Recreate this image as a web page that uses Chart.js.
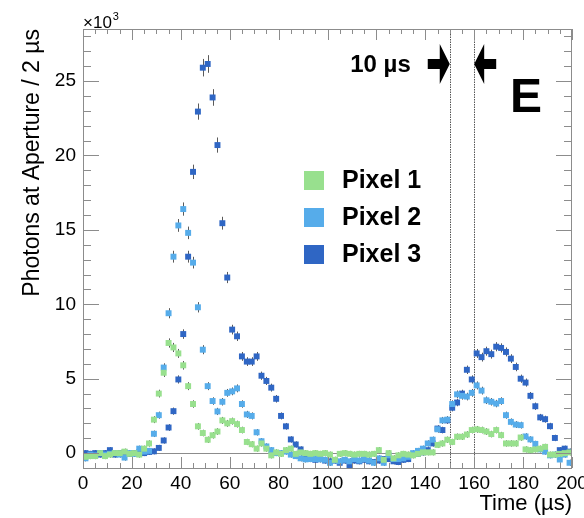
<!DOCTYPE html>
<html>
<head>
<meta charset="utf-8">
<script src="https://cdn.jsdelivr.net/npm/chart.js@4.4.1/dist/chart.umd.min.js"></script>
<style>
  html, body { margin: 0; padding: 0; background: #fff; }
  #wrap { width: 584px; height: 518px; }
</style>
</head>
<body>
<div id="wrap"><canvas id="photonChart" width="584" height="518"></canvas></div>
<script>
// 2 us bins, centres in us
const binCentres = [
  1, 3, 5, 7, 9, 11, 13, 15, 17, 19,
  21, 23, 25, 27, 29, 31, 33, 35, 37, 39,
  41, 43, 45, 47, 49, 51, 53, 55, 57, 59,
  61, 63, 65, 67, 69, 71, 73, 75, 77, 79,
  81, 83, 85, 87, 89, 91, 93, 95, 97, 99,
  101, 103, 105, 107, 109, 111, 113, 115, 117, 119,
  121, 123, 125, 127, 129, 131, 133, 135, 137, 139,
  141, 143, 145, 147, 149, 151, 153, 155, 157, 159,
  161, 163, 165, 167, 169, 171, 173, 175, 177, 179,
  181, 183, 185, 187, 189, 191, 193, 195, 197, 199
];

// photons at aperture per bin, in units of 10^3
const pixel1 = [
  -0.25, -0.2, -0.2, 0.0, -0.2, -0.1, 0.0, 0.0, 0.1, -0.05,
  0.0, -0.1, 0.3, 0.65, 2.25, 4.0, 5.4, 7.4, 7.1, 6.7,
  5.9, 4.5, 3.3, 1.8, 1.35, 0.9, 1.2, 1.45, 2.2, 2.0,
  2.15, 1.95, 1.55, 0.75, 0.6, 0.3, 0.65, 0.3, -0.15, 0.05,
  -0.05, 0.2, 0.3, -0.05, 0.05, 0.0, -0.05, 0.0, -0.05, 0.0,
  -0.1, -0.45, -0.05, 0.0, -0.05, -0.1, -0.05, -0.05, -0.1, -0.05,
  0.2, -0.45, 0.0, -0.35, -0.15, -0.05, -0.1, -0.15, -0.05, 0.05,
  0.05, 0.05, 0.55, 0.65, 0.9, 0.75, 1.1, 1.1, 1.25, 1.55,
  1.6, 1.55, 1.45, 1.28, 1.55, 1.21, 0.65, 0.65, 0.65, 1.05,
  0.25, 0.2, 0.25, 0.3, 0.42, -0.1, -0.1, -0.05, 0.0, 0.05
];
const pixel2 = [
  -0.35, -0.1, -0.15, 0.0, -0.1, -0.05, 0.0, -0.1, -0.3, 0.0,
  -0.05, 0.3, 0.1, 0.15, 1.3, 2.55, 5.75, 9.4, 13.2, 15.3,
  16.4, 14.8, 12.8, 9.8, 6.95, 4.5, 3.5, 2.8, 3.45, 4.05,
  4.15, 4.35, 3.3, 2.6, 2.5, 1.4, 0.8, 0.45, 0.2, 0.0,
  0.0, 0.1, -0.1, -0.2, -0.35, -0.42, -0.4, -0.4, -0.42, -0.45,
  -0.65, -0.5, -0.55, -0.45, -0.55, -0.4, -0.5, -0.4, -0.5, -0.65,
  -0.35, -0.65, -0.15, -0.4, -0.4, -0.35, -0.25, 0.0, 0.15, 0.3,
  0.65, 0.9, 1.6, 2.2, 2.25, 3.3, 3.95, 3.85, 3.8, 4.05,
  4.55, 4.2, 3.55, 3.45, 3.33, 3.5, 2.55, 2.1, 1.92, 1.88,
  1.12, 0.92, 0.62, 0.25, 0.1, -0.15, -0.1, -0.43, -0.1, -0.65
];
const pixel3 = [
  0.0, -0.05, 0.0, -0.1, 0.0, 0.2, -0.1, 0.0, 0.05, -0.05,
  0.0, 0.05, 0.0, 0.08, 0.12, 0.35, 0.85, 1.72, 2.82, 4.95,
  8.0, 13.2, 18.9, 22.95, 25.9, 26.15, 23.9, 20.7, 15.45, 11.8,
  8.3, 7.85, 6.5, 6.15, 6.15, 6.5, 5.2, 4.85, 4.4, 3.65,
  2.5, 1.8, 0.92, 0.58, 0.25, -0.2, -0.35, -0.45, -0.4, -0.5,
  -0.55, -0.5, -0.65, -0.5, -0.85, -0.5, -0.55, -0.45, -0.55, -0.6,
  -0.5, -0.4, -0.4, -0.55, -0.6, -0.45, -0.4, -0.1, -0.05, 0.05,
  0.2, 0.65, 1.65, 1.55, 2.2, 3.05, 3.4, 4.0, 5.6, 4.95,
  6.7, 6.45, 6.85, 6.65, 7.15, 7.07, 6.8, 6.35, 5.79, 5.0,
  4.74, 3.85, 3.15, 2.4, 2.28, 1.81, 1.02, 0.2, 0.3, 0.1
];

const seriesNames = ["Pixel 1", "Pixel 2", "Pixel 3"];
const seriesColors = ["#98e08e", "#56acea", "#2f66c4"];
const xTicks = [0, 20, 40, 60, 80, 100, 120, 140, 160, 180, 200];
const yTicks = [0, 5, 10, 15, 20, 25];
const windowEdges = [150, 160]; // the 10 us window

// rough statistical error size (10^3 photons)
const errFloor = 0.2;
const errSlope = 0.015;

const FONT = "'Liberation Sans', Arial, Helvetica, sans-serif";
const AXIS_GREY = "#8c8c8c";

function toPoints(vals) {
  return vals.map((v, i) => ({ x: binCentres[i], y: v }));
}

const rootStyle = {
  id: "rootStyle",
  beforeDatasetsDraw(chart) {
    const { ctx, chartArea: a, scales: { x, y } } = chart;
    ctx.save();
    // dotted window lines
    ctx.strokeStyle = "#555";
    ctx.lineWidth = 1;
    ctx.setLineDash([1.5, 1]);
    windowEdges.forEach(t => {
      const px = Math.round(x.getPixelForValue(t)) + 0.5;
      ctx.beginPath();
      ctx.moveTo(px, a.top);
      ctx.lineTo(px, a.bottom);
      ctx.stroke();
    });
    ctx.setLineDash([]);
    // error bars
    ctx.strokeStyle = "#5a5a5a";
    chart.data.datasets.forEach(ds => {
      ds.data.forEach(p => {
        const e = errFloor + errSlope * Math.abs(p.y);
        const px = Math.round(x.getPixelForValue(p.x)) + 0.5;
        ctx.beginPath();
        ctx.moveTo(px, y.getPixelForValue(p.y - e));
        ctx.lineTo(px, y.getPixelForValue(p.y + e));
        ctx.stroke();
      });
    });
    ctx.restore();
  },
  afterDraw(chart) {
    const { ctx, chartArea: a, scales: { x, y } } = chart;
    ctx.save();

    // frame + inward ticks
    ctx.strokeStyle = AXIS_GREY;
    ctx.lineWidth = 1;
    ctx.strokeRect(a.left + 0.5, a.top + 0.5, a.right - a.left - 1, a.bottom - a.top);
    ctx.beginPath();
    for (let t = 0; t <= 200; t += 5) {
      const px = Math.round(x.getPixelForValue(t)) + 0.5;
      const len = t % 20 === 0 ? 11 : 5;
      ctx.moveTo(px, a.bottom); ctx.lineTo(px, a.bottom - len);
      ctx.moveTo(px, a.top); ctx.lineTo(px, a.top + len);
    }
    for (let v = -1; v <= 28; v += 1) {
      const py = Math.round(y.getPixelForValue(v)) + 0.5;
      const len = v % 5 === 0 ? 16 : 8;
      ctx.moveTo(a.left, py); ctx.lineTo(a.left + len, py);
      ctx.moveTo(a.right, py); ctx.lineTo(a.right - len, py);
    }
    ctx.stroke();

    // x10^3 multiplier
    ctx.fillStyle = "#000";
    ctx.textBaseline = "alphabetic";
    ctx.textAlign = "left";
    ctx.font = "17px " + FONT;
    ctx.fillText("\u00d710", a.left, 28);
    const w = ctx.measureText("\u00d710").width;
    ctx.font = "11px " + FONT;
    ctx.fillText("3", a.left + w + 1, 20);

    // 10 us window arrows
    const yArrow = 64;
    const tipL = x.getPixelForValue(windowEdges[0]);
    const tipR = x.getPixelForValue(windowEdges[1]);
    ctx.fillStyle = "#000";
    [[tipL, 1], [tipR, -1]].forEach(([tip, dir]) => {
      ctx.fillRect(dir > 0 ? tip - 22 : tip + 8, yArrow - 5, 14, 10);
      ctx.beginPath();
      ctx.moveTo(tip, yArrow);
      ctx.lineTo(tip - dir * 10, yArrow - 20);
      ctx.lineTo(tip - dir * 10, yArrow + 20);
      ctx.closePath();
      ctx.fill();
    });
    ctx.font = "bold 24px " + FONT;
    ctx.textAlign = "right";
    ctx.textBaseline = "middle";
    ctx.fillText("10 \u00b5s", tipL - 39, yArrow + 1);

    // panel letter
    ctx.font = "bold 48px " + FONT;
    ctx.textAlign = "left";
    ctx.textBaseline = "alphabetic";
    ctx.fillText("E", 510, 112);

    // legend
    ctx.font = "bold 25px " + FONT;
    ctx.textBaseline = "middle";
    chart.data.datasets.forEach((ds, i) => {
      const cy = 180.5 + i * 37;
      ctx.fillStyle = ds.backgroundColor;
      ctx.fillRect(304, cy - 9.5, 20, 19);
      ctx.fillStyle = "#000";
      ctx.fillText(ds.label, 342, cy + 1);
    });

    ctx.restore();
  }
};

Chart.defaults.font.family = FONT;
Chart.defaults.color = "#000";

new Chart(document.getElementById("photonChart").getContext("2d"), {
  type: "scatter",
  data: {
    datasets: [pixel1, pixel2, pixel3].map((vals, i) => ({
      label: seriesNames[i],
      data: toPoints(vals),
      backgroundColor: seriesColors[i],
      borderWidth: 0,
      pointStyle: "rect",
      pointRadius: 4.2,
      pointHoverRadius: 4.2,
    })),
  },
  options: {
    responsive: false,
    animation: false,
    events: [],
    layout: { padding: { left: 0, top: 29, right: 12, bottom: 0 } },
    plugins: { legend: { display: false }, tooltip: { enabled: false } },
    scales: {
      x: {
        type: "linear",
        min: 0,
        max: 200,
        afterBuildTicks: s => { s.ticks = xTicks.map(v => ({ value: v })); },
        afterFit: s => { s.height = 50; s.paddingLeft = 0; s.paddingRight = 0; },
        grid: { display: false, drawTicks: false },
        border: { display: false },
        ticks: { font: { size: 19 }, padding: 4, maxRotation: 0, autoSkip: false },
        title: {
          display: true,
          text: "Time (\u00b5s)",
          align: "end",
          font: { size: 22 },
          padding: { top: 0, bottom: 1 },
        },
      },
      y: {
        type: "linear",
        min: -1,
        max: 28.5,
        afterBuildTicks: s => { s.ticks = yTicks.map(v => ({ value: v })); },
        afterFit: s => { s.width = 83; s.paddingTop = 0; s.paddingBottom = 0; },
        grid: {
          drawTicks: false,
          color: c => (c.tick && c.tick.value === 0 ? AXIS_GREY : "rgba(0,0,0,0)"),
        },
        border: { display: false },
        ticks: { font: { size: 19 }, padding: 7 },
        title: {
          display: true,
          text: "Photons at Aperture / 2 \u00b5s",
          align: "end",
          font: { size: 23 },
          padding: { top: 19, bottom: 0 },
        },
      },
    },
  },
  plugins: [rootStyle],
});
</script>
</body>
</html>
